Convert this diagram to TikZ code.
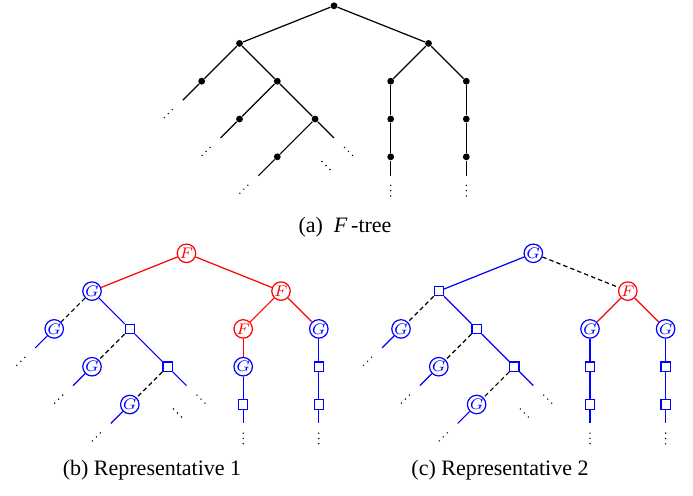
\documentclass[tikz,border=0pt]{standalone}
\usepackage{fontspec}
\setmainfont{Liberation Serif}
\begin{document}
\begin{tikzpicture}[x=0.45455pt,y=-0.45455pt,
  edge/.style={line width=0.55pt},
  fe/.style={edge,red},
  ge/.style={edge,blue},
  ke/.style={edge,black},
  de/.style={edge,black,dash pattern=on 2pt off 1.4pt},
  bdot/.style={circle,fill=black,inner sep=0pt,minimum size=3.1pt},
  fnode/.style={circle,draw=red,text=red,fill=white,line width=0.55pt,inner sep=0pt,minimum size=8.4pt,font=\fontsize{7.5pt}{8pt}\selectfont},
  gnode/.style={circle,draw=blue,text=blue,fill=white,line width=0.55pt,inner sep=0pt,minimum size=8.4pt,font=\fontsize{7.5pt}{8pt}\selectfont},
  snode/.style={rectangle,draw=blue,fill=white,line width=0.55pt,inner sep=0pt,minimum size=4.2pt},
  captxt/.style={font=\fontsize{10pt}{12pt}\selectfont,inner sep=0pt},
  dne/.pic={\fill (-4,4) circle (0.36pt) (0,0) circle (0.36pt) (4,-4) circle (0.36pt);},
  dse/.pic={\fill (-4,-4) circle (0.36pt) (0,0) circle (0.36pt) (4,4) circle (0.36pt);},
  dvt/.pic={\fill (0,-5.3) circle (0.36pt) (0,0) circle (0.36pt) (0,5.3) circle (0.36pt);}
]
\useasboundingbox (0,0) rectangle (693,495);

% ---------------- (a) F-tree ----------------
\node[bdot] (ar) at (334,5.8) {};
\node[bdot] (aa1) at (239.5,43.4) {};
\node[bdot] (aa2) at (428.5,43.4) {};
\node[bdot] (ab1) at (201.7,81.2) {};
\node[bdot] (ab2) at (277.3,81.2) {};
\node[bdot] (ab3) at (390.7,81.2) {};
\node[bdot] (ab4) at (466.3,81.2) {};
\node[bdot] (ac1) at (239.5,119) {};
\node[bdot] (ac2) at (315.1,119) {};
\node[bdot] (ac3) at (390.7,119) {};
\node[bdot] (ac4) at (466.3,119) {};
\node[bdot] (ad1) at (277.3,156.8) {};
\node[bdot] (ad3) at (390.7,156.8) {};
\node[bdot] (ad4) at (466.3,156.8) {};
\coordinate (ab1s) at (182.8,100.1);
\coordinate (ac1s) at (220.6,137.9);
\coordinate (ad1s) at (258.4,175.7);
\coordinate (ac2s) at (334,137.9);
\coordinate (ad3s) at (390.7,175.7);
\coordinate (ad4s) at (466.3,175.7);
\draw[ke] (ar) -- (aa1);
\draw[ke] (ar) -- (aa2);
\draw[ke] (aa1) -- (ab1);
\draw[ke] (aa1) -- (ab2);
\draw[ke] (aa2) -- (ab3);
\draw[ke] (aa2) -- (ab4);
\draw[ke] (ab2) -- (ac1);
\draw[ke] (ab2) -- (ac2);
\draw[ke] (ab3) -- (ac3);
\draw[ke] (ab4) -- (ac4);
\draw[ke] (ac2) -- (ad1);
\draw[ke] (ac3) -- (ad3);
\draw[ke] (ac4) -- (ad4);
\draw[ke] (ab1) -- (ab1s);
\draw[ke] (ac1) -- (ac1s);
\draw[ke] (ad1) -- (ad1s);
\draw[ke] (ac2) -- (ac2s);
\draw[ke] (ad3) -- (ad3s);
\draw[ke] (ad4) -- (ad4s);
\pic at (168.3,113.6) {dne};
\pic at (206.1,151.4) {dne};
\pic at (243.9,189.2) {dne};
\pic at (348.5,151.4) {dse};
\pic at (326,165.5) {dse};
\pic at (390.7,190.7) {dvt};
\pic at (466.3,190.7) {dvt};
\node[captxt] (capa) at (345,227) {(a)\hspace{0.5em}\textit{F}\,-tree};

% ---------------- (b) Representative 1 ----------------
\node[fnode] (br) at (186.5,253.3) {$F$};
\node[gnode] (ba1) at (92,291.1) {$G$};
\node[fnode] (ba2) at (281,291.1) {$F$};
\node[gnode] (bb1) at (54.2,328.9) {$G$};
\node[snode] (bb2) at (129.8,328.9) {};
\node[fnode] (bb3) at (243.2,328.9) {$F$};
\node[gnode] (bb4) at (318.8,328.9) {$G$};
\node[gnode] (bc1) at (92,366.7) {$G$};
\node[snode] (bc2) at (167.6,366.7) {};
\node[gnode] (bc3) at (243.2,366.7) {$G$};
\node[snode] (bc4) at (318.8,366.7) {};
\node[gnode] (bd1) at (129.8,404.5) {$G$};
\node[snode] (bd3) at (243.2,404.5) {};
\node[snode] (bd4) at (318.8,404.5) {};
\coordinate (bb1s) at (35.3,347.8);
\coordinate (bc1s) at (73.1,385.6);
\coordinate (bd1s) at (110.9,423.4);
\coordinate (bc2s) at (186.5,385.6);
\coordinate (bd3s) at (243.2,423.4);
\coordinate (bd4s) at (318.8,423.4);
\draw[fe] (br) -- (ba1);
\draw[fe] (br) -- (ba2);
\draw[de] (ba1) -- (bb1);
\draw[ge] (ba1) -- (bb2);
\draw[fe] (ba2) -- (bb3);
\draw[fe] (ba2) -- (bb4);
\draw[de] (bb2) -- (bc1);
\draw[ge] (bb2) -- (bc2);
\draw[fe] (bb3) -- (bc3);
\draw[ge] (bb4) -- (bc4);
\draw[de] (bc2) -- (bd1);
\draw[ge] (bc3) -- (bd3);
\draw[ge] (bc4) -- (bd4);
\draw[ge] (bb1) -- (bb1s);
\draw[ge] (bc1) -- (bc1s);
\draw[ge] (bd1) -- (bd1s);
\draw[ge] (bc2) -- (bc2s);
\draw[ge] (bd3) -- (bd3s);
\draw[ge] (bd4) -- (bd4s);
\pic at (20.8,361.3) {dne};
\pic at (58.6,399.1) {dne};
\pic at (96.4,436.9) {dne};
\pic at (201,399.1) {dse};
\pic at (177.5,413) {dse};
\pic at (243.2,438.4) {dvt};
\pic at (318.8,438.4) {dvt};
\node[captxt] (capb) at (152,470) {(b) Representative 1};

% ---------------- (c) Representative 2 ----------------
\node[gnode] (cr) at (533.3,253.3) {$G$};
\node[snode] (ca1) at (438.8,291.1) {};
\node[fnode] (ca2) at (627.8,291.1) {$F$};
\node[gnode] (cb1) at (401,328.9) {$G$};
\node[snode] (cb2) at (476.6,328.9) {};
\node[gnode] (cb3) at (590,328.9) {$G$};
\node[gnode] (cb4) at (665.6,328.9) {$G$};
\node[gnode] (cc1) at (438.8,366.7) {$G$};
\node[snode] (cc2) at (514.4,366.7) {};
\node[snode] (cc3) at (590,366.7) {};
\node[snode] (cc4) at (665.6,366.7) {};
\node[gnode] (cd1) at (476.6,404.5) {$G$};
\node[snode] (cd3) at (590,404.5) {};
\node[snode] (cd4) at (665.6,404.5) {};
\coordinate (cb1s) at (382.1,347.8);
\coordinate (cc1s) at (419.9,385.6);
\coordinate (cd1s) at (457.7,423.4);
\coordinate (cc2s) at (533.3,385.6);
\coordinate (cd3s) at (590,423.4);
\coordinate (cd4s) at (665.6,423.4);
\draw[ge] (cr) -- (ca1);
\draw[de] (cr) -- (ca2);
\draw[de] (ca1) -- (cb1);
\draw[ge] (ca1) -- (cb2);
\draw[fe] (ca2) -- (cb3);
\draw[fe] (ca2) -- (cb4);
\draw[de] (cb2) -- (cc1);
\draw[ge] (cb2) -- (cc2);
\draw[ge] (cb3) -- (cc3);
\draw[ge] (cb4) -- (cc4);
\draw[de] (cc2) -- (cd1);
\draw[ge] (cc3) -- (cd3);
\draw[ge] (cc4) -- (cd4);
\draw[ge] (cb1) -- (cb1s);
\draw[ge] (cc1) -- (cc1s);
\draw[ge] (cd1) -- (cd1s);
\draw[ge] (cc2) -- (cc2s);
\draw[ge] (cd3) -- (cd3s);
\draw[ge] (cd4) -- (cd4s);
\pic at (367.6,361.3) {dne};
\pic at (405.4,399.1) {dne};
\pic at (443.2,436.9) {dne};
\pic at (547.8,399.1) {dse};
\pic at (524.3,413) {dse};
\pic at (590,438.4) {dvt};
\pic at (665.6,438.4) {dvt};
\node[captxt] (capc) at (500,470) {(c) Representative 2};
\end{tikzpicture}
\end{document}
